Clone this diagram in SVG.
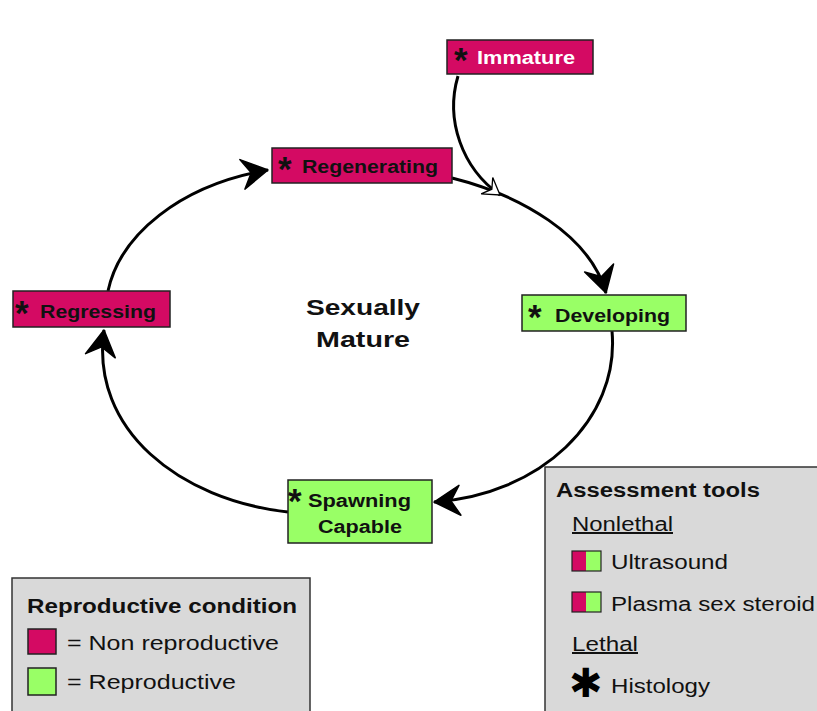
<svg xmlns="http://www.w3.org/2000/svg" width="817" height="711" viewBox="0 0 817 711">
<style>
text{font-family:"Liberation Sans",Arial,sans-serif;}
.b{font-weight:bold;}
.lbl{font-size:18px;font-weight:bold;fill:#111;}
.ast{font-size:35px;font-weight:bold;fill:#111;}
.red{fill:#D40A63;stroke:#222;stroke-width:1.5;}
.grn{fill:#99FF66;stroke:#222;stroke-width:1.5;}
.leg{fill:#D9D9D9;stroke:#333;stroke-width:1.5;}
.item{font-size:20px;fill:#111;}
.conn{fill:none;stroke:#000;stroke-width:3;}
</style>
<defs>
<marker id="chev" markerUnits="userSpaceOnUse" viewBox="-30 -18 32 36" refX="0" refY="0" markerWidth="32" markerHeight="36" orient="auto">
<path d="M0,0 L-26,-15 L-17,0 L-26,15 Z" fill="#000" stroke="#000" stroke-width="1.5" stroke-linejoin="round"/>
</marker>
<marker id="wchev" markerUnits="userSpaceOnUse" viewBox="-22 -13 24 26" refX="0" refY="0" markerWidth="24" markerHeight="26" orient="auto">
<path d="M0,0 L-16,-10 L-10,0 L-16,10 Z" fill="#fff" stroke="#000" stroke-width="1.3"/>
</marker>
</defs>
<rect width="817" height="711" fill="#fff"/>
<g id="connectors">
<path class="conn" d="M108,291 C120,235 180,185 268,170" marker-end="url(#chev)"/>
<path class="conn" d="M452,178 C520,195 590,235 606,293" marker-end="url(#chev)"/>
<path class="conn" d="M612,331 C620,420 540,495 434,502" marker-end="url(#chev)"/>
<path class="conn" d="M288,512 C180,500 90,430 104,330" marker-end="url(#chev)"/>
<path class="conn" d="M458,76 C445,120 462,168 500,195" marker-end="url(#wchev)"/>
</g>
<g id="immature">
<rect class="red" x="447" y="40" width="146" height="34"/>
<text class="ast" x="454" y="72">*</text>
<text class="lbl" x="477" y="64" style="fill:#fff" textLength="98" lengthAdjust="spacingAndGlyphs">Immature</text>
</g>
<g id="regenerating">
<rect class="red" x="272" y="148" width="180" height="35"/>
<text class="ast" x="278" y="181">*</text>
<text class="lbl" x="302" y="173" textLength="136" lengthAdjust="spacingAndGlyphs">Regenerating</text>
</g>
<g id="developing">
<rect class="grn" x="522" y="295" width="164" height="36"/>
<text class="ast" x="528" y="329">*</text>
<text class="lbl" x="555" y="322" textLength="115" lengthAdjust="spacingAndGlyphs">Developing</text>
</g>
<g id="regressing">
<rect class="red" x="13" y="291" width="157" height="36"/>
<text class="ast" x="15" y="325">*</text>
<text class="lbl" x="40" y="318" textLength="116" lengthAdjust="spacingAndGlyphs">Regressing</text>
</g>
<g id="spawning">
<rect class="grn" x="288" y="480" width="144" height="63"/>
<text class="ast" x="288" y="513">*</text>
<text class="lbl" x="308" y="507" textLength="103" lengthAdjust="spacingAndGlyphs">Spawning</text>
<text class="lbl" x="318" y="533" textLength="84" lengthAdjust="spacingAndGlyphs">Capable</text>
</g>
<g id="center-label">
<text class="b" x="306" y="315" font-size="22" fill="#111" textLength="114" lengthAdjust="spacingAndGlyphs">Sexually</text>
<text class="b" x="316" y="347" font-size="22" fill="#111" textLength="94" lengthAdjust="spacingAndGlyphs">Mature</text>
</g>
<g id="legend-condition">
<rect class="leg" x="12" y="578" width="298" height="140"/>
<text class="b" x="27" y="613" font-size="20" fill="#111" textLength="270" lengthAdjust="spacingAndGlyphs">Reproductive condition</text>
<rect class="red" x="28" y="629" width="28" height="25"/>
<text class="item" x="67" y="650" textLength="212" lengthAdjust="spacingAndGlyphs">= Non reproductive</text>
<rect class="grn" x="28" y="668" width="28" height="27"/>
<text class="item" x="67" y="689" textLength="169" lengthAdjust="spacingAndGlyphs">= Reproductive</text>
</g>
<g id="legend-tools">
<rect class="leg" x="545" y="467" width="290" height="260"/>
<text class="b" x="556" y="497" font-size="20" fill="#111" textLength="204" lengthAdjust="spacingAndGlyphs">Assessment tools</text>
<text class="item" x="572" y="531" text-decoration="underline" textLength="101" lengthAdjust="spacingAndGlyphs">Nonlethal</text>
<rect x="572" y="551" width="14" height="20" fill="#D40A63"/>
<rect x="586" y="551" width="15" height="20" fill="#99FF66"/>
<rect x="572" y="551" width="29" height="20" fill="none" stroke="#222" stroke-width="1.2"/>
<text class="item" x="611" y="569" textLength="117" lengthAdjust="spacingAndGlyphs">Ultrasound</text>
<rect x="572" y="592" width="14" height="20" fill="#D40A63"/>
<rect x="586" y="592" width="15" height="20" fill="#99FF66"/>
<rect x="572" y="592" width="29" height="20" fill="none" stroke="#222" stroke-width="1.2"/>
<text class="item" x="611" y="611" textLength="204" lengthAdjust="spacingAndGlyphs">Plasma sex steroid</text>
<text class="item" x="572" y="651" text-decoration="underline" textLength="66" lengthAdjust="spacingAndGlyphs">Lethal</text>
<text x="569" y="697" font-family="'DejaVu Sans',sans-serif" font-size="40" fill="#000">✱</text>
<text class="item" x="611" y="693" textLength="99" lengthAdjust="spacingAndGlyphs">Histology</text>
</g>
</svg>
